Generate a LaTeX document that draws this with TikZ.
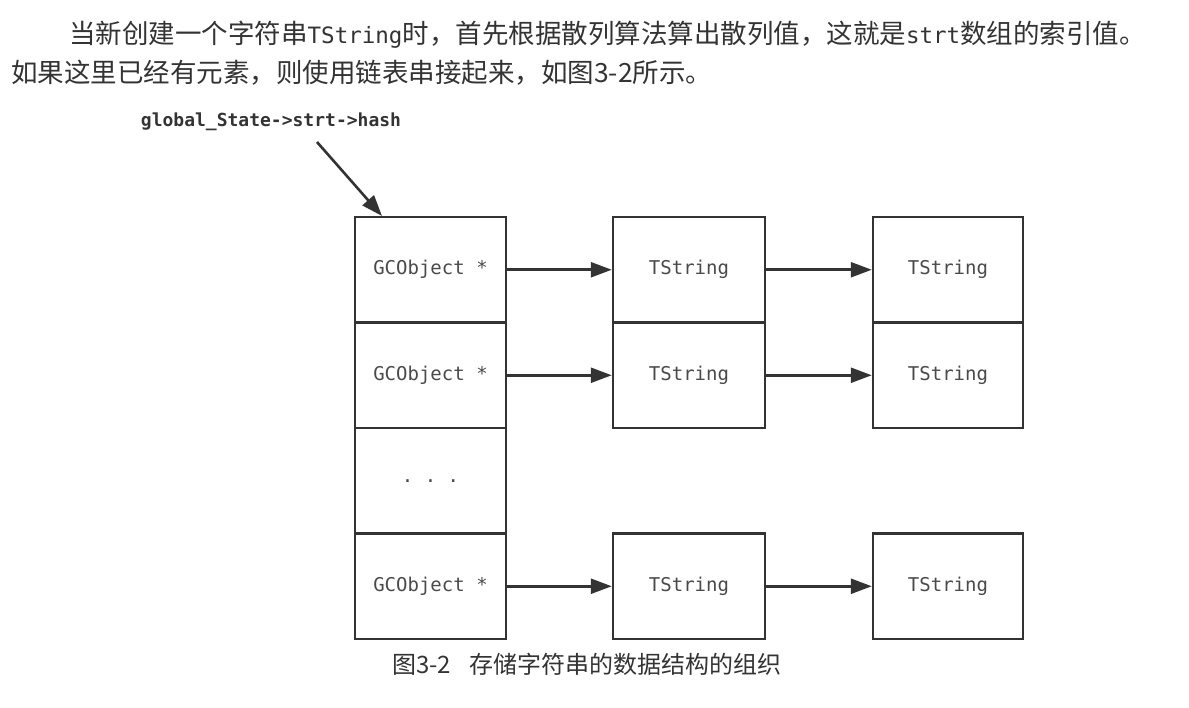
\documentclass[tikz,border=0pt]{standalone}
\usepackage{fontspec}
\setmainfont{Liberation Serif}
\setmonofont{DejaVu Sans Mono}
\newfontfamily\cjk{Noto Sans CJK SC}
\usetikzlibrary{arrows.meta}
\definecolor{ink}{HTML}{333333}
\definecolor{txt}{HTML}{4A4A4A}
\tikzset{
  cell/.style={draw=ink, line width=2.5pt, rectangle, inner sep=0pt,
    minimum height=105.5pt, font=\ttfamily\fontsize{19}{21}\selectfont, text=txt},
  lcell/.style={cell, minimum width=151pt},
  mcell/.style={cell, minimum width=152pt},
  rcell/.style={cell, minimum width=150pt},
  link/.style={draw=ink, line width=2.6pt, -{Triangle[length=21pt,width=15pt]}},
  para/.style={anchor=west, inner sep=0pt, text=ink, font=\cjk\fontsize{26.5}{30}\selectfont},
}
\begin{document}
\begin{tikzpicture}[x=1pt,y=-1pt]
\useasboundingbox (0,0) rectangle (1189,707);
% paragraph text
\node[para] (p1) at (69,35) {当新创建一个字符串{\ttfamily\fontsize{22.5}{26}\selectfont TString}时，首先根据散列算法算出散列值，这就是{\ttfamily\fontsize{22.5}{26}\selectfont strt}数组的索引值。};
\node[para] (p2) at (11,73) {如果这里已经有元素，则使用链表串接起来，如图3-2所示。};
% label
\node[inner sep=0pt, text=ink, font=\ttfamily\bfseries\fontsize{18}{20}\selectfont] (lab) at (271,122) {global\_State->strt->hash};
\coordinate (labtail) at (317,142);
\coordinate (labhead) at (382,216);
% left column
\node[lcell] (g1) at (430.5,269.75) {GCObject *};
\node[lcell] (g2) at (430.5,375.25) {GCObject *};
\node[lcell] (g3) at (430.5,480.75) {. . .};
\node[lcell] (g4) at (430.5,586.25) {GCObject *};
% middle column
\node[mcell] (m1) at (689,269.75) {TString};
\node[mcell] (m2) at (689,375.25) {TString};
\node[mcell] (m4) at (689,586.25) {TString};
% right column
\node[rcell] (r1) at (948,269.75) {TString};
\node[rcell] (r2) at (948,375.25) {TString};
\node[rcell] (r4) at (948,586.25) {TString};
% arrows
\draw[link] (labtail) -- (labhead);
\draw[link] (g1.east) -- (m1.west);
\draw[link] (g2.east) -- (m2.west);
\draw[link] (g4.east) -- (m4.west);
\draw[link] (m1.east) -- (r1.west);
\draw[link] (m2.east) -- (r2.west);
\draw[link] (m4.east) -- (r4.west);
% caption
\node[anchor=west, inner sep=0pt, text=ink, font=\cjk\fontsize{24}{28}\selectfont] (cap) at (392,664) {图3-2\hspace{18pt}存储字符串的数据结构的组织};
\end{tikzpicture}
\end{document}
